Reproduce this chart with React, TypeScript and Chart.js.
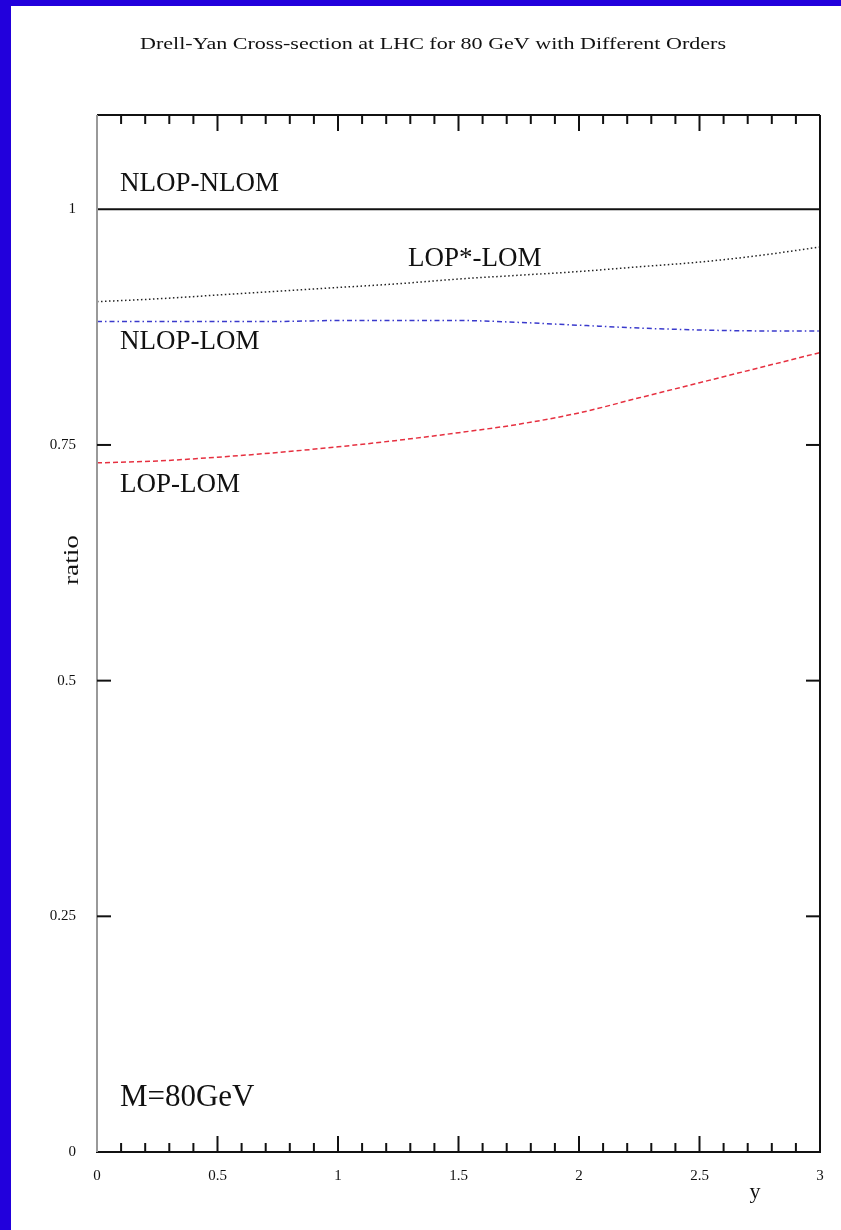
import React, { useEffect, useRef } from "react";
import { Chart, registerables } from "chart.js";

Chart.register(...registerables);

// Rapidity sample points and the ratio curves for each order combination
const rapidity = [0, 0.25, 0.5, 0.75, 1, 1.25, 1.5, 1.75, 2, 2.25, 2.5, 2.75, 3];
const nlopNlom = [1, 1, 1, 1, 1, 1, 1, 1, 1, 1, 1, 1, 1];
const lopStarLom = [0.902, 0.905, 0.909, 0.913, 0.917, 0.921, 0.926, 0.93, 0.934, 0.939, 0.944, 0.951, 0.96];
const nlopLom = [0.881, 0.881, 0.881, 0.881, 0.882, 0.882, 0.882, 0.88, 0.877, 0.874, 0.872, 0.871, 0.871];
const lopLom = [0.731, 0.733, 0.737, 0.742, 0.748, 0.755, 0.763, 0.772, 0.784, 0.8, 0.816, 0.832, 0.848];

const xTickValues = [0, 0.5, 1, 1.5, 2, 2.5, 3];
const yTickValues = [0, 0.25, 0.5, 0.75, 1];

const curveLabels = [
  { text: "NLOP-NLOM", x: 0.095, y: 1.027, size: 27 },
  { text: "LOP*-LOM", x: 1.29, y: 0.947, size: 27 },
  { text: "NLOP-LOM", x: 0.095, y: 0.859, size: 27 },
  { text: "LOP-LOM", x: 0.095, y: 0.708, size: 27 },
  { text: "M=80GeV", x: 0.095, y: 0.057, size: 31 },
];

const TITLE = "Drell-Yan Cross-section at LHC for 80 GeV with Different Orders";
const SERIF = "'Liberation Serif', 'DejaVu Serif', serif";

const toPoints = (ys: number[]) => rapidity.map((x, i) => ({ x, y: ys[i] }));

function drawText(
  ctx: CanvasRenderingContext2D,
  text: string,
  x: number,
  y: number,
  size: number,
  align: CanvasTextAlign,
  width?: number,
  rotate = 0
) {
  ctx.save();
  ctx.font = `${size}px ${SERIF}`;
  const w = ctx.measureText(text).width;
  const sx = width ? width / w : 1;
  ctx.translate(x, y);
  if (rotate) ctx.rotate(rotate);
  ctx.scale(sx, 1);
  ctx.fillStyle = "#111";
  ctx.textAlign = align;
  ctx.textBaseline = "middle";
  ctx.fillText(text, 0, 0);
  ctx.restore();
}

const framePlugin = {
  id: "paFrame",
  afterDatasetsDraw(chart: any) {
    const { ctx, chartArea: a, scales } = chart;
    const xs = scales.x;
    const ys = scales.y;
    const seg = (x1: number, y1: number, x2: number, y2: number) => {
      ctx.beginPath();
      ctx.moveTo(x1, y1);
      ctx.lineTo(x2, y2);
      ctx.stroke();
    };
    ctx.save();
    ctx.lineCap = "butt";

    // frame
    ctx.strokeStyle = "#111";
    ctx.lineWidth = 2;
    seg(a.left, a.top, a.right, a.top);
    seg(a.right, a.top, a.right, a.bottom);
    seg(a.left - 1, a.bottom, a.right + 1, a.bottom);
    ctx.strokeStyle = "#999";
    ctx.lineWidth = 2;
    seg(a.left, a.top, a.left, a.bottom);

    // x ticks: minor every 0.1, major every 0.5, pointing inward
    ctx.strokeStyle = "#111";
    ctx.lineWidth = 2;
    for (let i = 1; i < 30; i++) {
      const px = xs.getPixelForValue(i / 10);
      const len = i % 5 === 0 ? 16 : 9;
      seg(px, a.bottom, px, a.bottom - len);
      seg(px, a.top, px, a.top + len);
    }
    // y ticks on both sides
    yTickValues.forEach((v) => {
      if (v <= 0 || v >= 1) return;
      const py = ys.getPixelForValue(v);
      seg(a.left, py, a.left + 14, py);
      seg(a.right, py, a.right - 14, py);
    });
    ctx.restore();

    // curve annotations
    curveLabels.forEach((l) => {
      drawText(ctx, l.text, xs.getPixelForValue(l.x), ys.getPixelForValue(l.y), l.size, "left");
    });

    // title and axis titles
    drawText(ctx, TITLE, 422, 39, 17, "center", 586);
    drawText(ctx, "ratio", 61, 554, 22, "center", 50, -Math.PI / 2);
    drawText(ctx, "y", 744, 1186, 22, "center");
  },
};

export default function App() {
  const canvasRef = useRef<HTMLCanvasElement | null>(null);

  useEffect(() => {
    if (!canvasRef.current) return;
    const chart = new Chart(canvasRef.current, {
      type: "line",
      data: {
        datasets: [
          {
            label: "NLOP-NLOM",
            data: toPoints(nlopNlom),
            borderColor: "#111",
            borderWidth: 2,
            pointRadius: 0,
          },
          {
            label: "LOP*-LOM",
            data: toPoints(lopStarLom),
            borderColor: "#222",
            borderWidth: 1.5,
            borderDash: [1.5, 2.5],
            pointRadius: 0,
            cubicInterpolationMode: "monotone",
          },
          {
            label: "NLOP-LOM",
            data: toPoints(nlopLom),
            borderColor: "#3a3acc",
            borderWidth: 1.5,
            borderDash: [5, 3, 1.5, 3],
            pointRadius: 0,
            cubicInterpolationMode: "monotone",
          },
          {
            label: "LOP-LOM",
            data: toPoints(lopLom),
            borderColor: "#e63040",
            borderWidth: 1.5,
            borderDash: [5, 3],
            pointRadius: 0,
            cubicInterpolationMode: "monotone",
          },
        ],
      },
      options: {
        animation: false,
        responsive: false,
        layout: { padding: { top: 109, right: 21, left: 0, bottom: 0 } },
        plugins: {
          legend: { display: false },
          title: { display: false },
          tooltip: { enabled: false },
        },
        scales: {
          x: {
            type: "linear",
            min: 0,
            max: 3,
            grid: { display: false, drawTicks: false },
            border: { display: false },
            ticks: {
              padding: 15,
              color: "#111",
              font: { family: SERIF, size: 15 },
              maxRotation: 0,
              autoSkip: false,
              callback: (v: any) => String(v),
            },
            afterBuildTicks: (s: any) => {
              s.ticks = xTickValues.map((value) => ({ value }));
            },
            afterFit: (s: any) => {
              s.height = 78;
            },
          },
          y: {
            type: "linear",
            min: 0,
            max: 1.1,
            grid: { display: false, drawTicks: false },
            border: { display: false },
            ticks: {
              padding: 21,
              color: "#111",
              font: { family: SERIF, size: 15 },
              autoSkip: false,
              callback: (v: any) => String(v),
            },
            afterBuildTicks: (s: any) => {
              s.ticks = yTickValues.map((value) => ({ value }));
            },
            afterFit: (s: any) => {
              s.width = 86;
            },
          },
        },
      },
      plugins: [framePlugin],
    });
    return () => chart.destroy();
  }, []);

  return (
    <div
      style={{
        position: "fixed",
        left: 0,
        top: 0,
        width: 841,
        height: 1230,
        background: "#2200dc",
        overflow: "hidden",
      }}
    >
      <div
        style={{
          position: "absolute",
          left: 11,
          top: 6,
          width: 830,
          height: 1224,
          background: "#fff",
        }}
      >
        <canvas ref={canvasRef} width={830} height={1224} style={{ display: "block" }} />
      </div>
    </div>
  );
}
